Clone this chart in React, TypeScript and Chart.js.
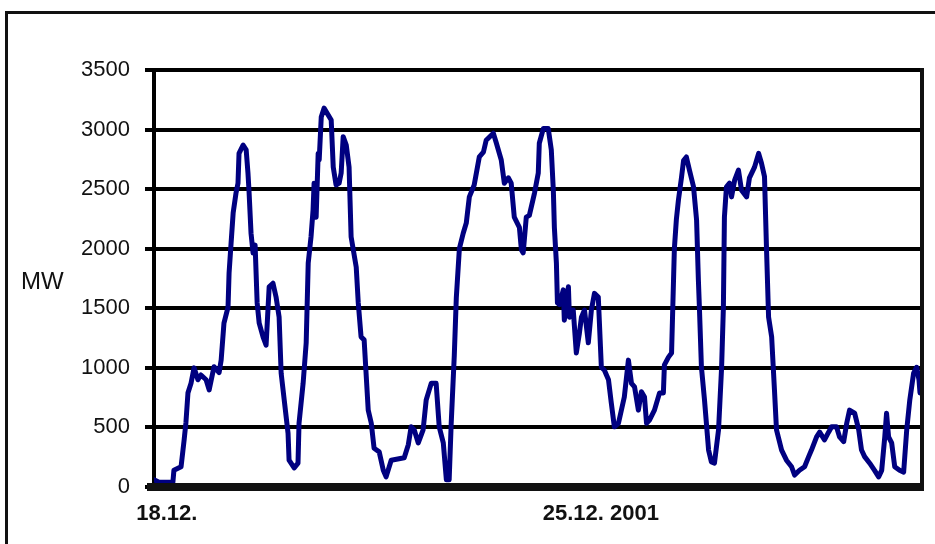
import { useEffect, useRef } from "react";
import { Chart, registerables } from "chart.js";

Chart.register(...registerables);

// time in hours since the start of 18.12.2001
const timeHours = [
  0, 2.0, 7.4, 7.8, 10.6, 11.8, 12.5, 13.3, 14.5, 15.7, 17.2, 18.4, 20.4, 21.6, 23.5, 25.5, 26.3, 27.4, 29.0, 29.4,
  30.2, 31.0, 32.1, 32.9, 33.3, 34.9, 36.1, 36.8, 37.2, 38.0, 38.8, 39.6, 40.4, 41.2, 42.7, 43.9, 45.1, 46.6, 47.8, 49.0,
  49.8, 51.0, 52.5, 52.9, 54.9, 56.4, 56.8, 58.4, 59.6, 60.4, 61.5, 62.3, 62.7, 63.5, 64.3, 64.7, 65.5, 66.6, 69.4, 70.2,
  71.3, 72.5, 73.3, 74.1, 75.3, 76.4, 77.2, 79.2, 80.0, 81.1, 82.3, 83.9, 85.1, 86.2, 88.2, 89.8, 90.9, 92.9, 98.0, 99.6,
  100.7, 101.9, 103.5, 105.4, 106.6, 107.8, 108.6, 110.5, 111.7, 113.3, 114.5, 115.6, 116.4, 117.6, 118.4, 119.6, 121.1, 122.3, 123.5, 125.4,
  127.4, 129.0, 130.1, 132.9, 134.1, 136.0, 137.2, 138.8, 139.9, 141.1, 143.1, 143.9, 144.6, 145.8, 147.0, 149.0, 150.5, 150.9, 152.5, 154.4,
  155.6, 156.4, 156.8, 157.6, 158.0, 158.8, 160.3, 160.7, 162.3, 162.7, 164.2, 165.4, 166.6, 167.4, 168.6, 170.1, 171.3, 172.5, 174.0, 175.2,
  176.4, 178.0, 179.1, 180.3, 181.9, 184.2, 185.8, 187.0, 188.2, 189.7, 190.9, 192.1, 192.9, 194.0, 196.0, 198.0, 199.5, 199.9, 201.5, 202.7,
  203.8, 204.6, 205.4, 206.6, 207.4, 208.5, 209.7, 211.3, 212.5, 213.2, 213.6, 214.4, 215.6, 217.2, 218.3, 219.5, 221.1, 222.3, 223.0, 223.4,
  224.2, 225.4, 226.2, 227.4, 228.9, 230.1, 232.1, 233.2, 235.2, 236.8, 237.9, 239.1, 239.9, 240.7, 241.9, 243.0, 243.8, 245.8, 247.7, 249.7,
  250.9, 252.8, 254.8, 256.4, 257.5, 259.5, 260.7, 262.6, 264.2, 265.4, 267.3, 268.5, 270.1, 271.3, 272.4, 274.4, 276.0, 277.1, 278.3, 280.3,
  282.2, 283.8, 285.0, 286.2, 286.9, 287.7, 288.9, 290.1, 292.0, 293.6, 294.8, 296.0, 297.5, 298.7, 299.6, 300,
];

// load in MW
const loadMW = [
  60, 40, 40, 140, 170, 395, 540, 790, 870, 1000, 900, 940, 900, 815, 1010, 960, 1065, 1375, 1510, 1795,
  2050, 2300, 2465, 2550, 2800, 2870, 2830, 2635, 2490, 2130, 1965, 2030, 1545, 1375, 1260, 1190, 1680, 1710, 1595, 1425,
  955, 730, 450, 225, 160, 200, 535, 870, 1210, 1880, 2100, 2325, 2550, 2265, 2800, 2745, 3105, 3180, 3080, 2685,
  2535, 2550, 2635, 2940, 2870, 2685, 2100, 1845, 1545, 1260, 1235, 645, 535, 325, 295, 140, 85, 225, 245, 355,
  505, 480, 370, 480, 730, 815, 870, 870, 505, 370, 60, 60, 535, 1100, 1590, 2000, 2130, 2215, 2435, 2535,
  2770, 2810, 2910, 2970, 2885, 2745, 2550, 2595, 2550, 2265, 2180, 1990, 1965, 2265, 2280, 2465, 2635, 2885, 3010, 3010,
  2830, 2490, 2180, 1880, 1545, 1530, 1655, 1400, 1680, 1425, 1485, 1125, 1290, 1425, 1485, 1210, 1485, 1625, 1595, 1005,
  980, 900, 705, 505, 535, 755, 1065, 870, 840, 645, 800, 755, 535, 560, 645, 790, 790, 1025, 1090, 1125,
  2000, 2250, 2410, 2600, 2740, 2770, 2660, 2520, 2240, 1740, 1510, 1005, 730, 310, 210, 200, 480, 1005, 1510, 2265,
  2520, 2550, 2435, 2575, 2660, 2490, 2435, 2595, 2685, 2800, 2720, 2605, 1990, 1425, 1260, 815, 480, 310, 225, 170,
  100, 140, 170, 255, 310, 420, 460, 395, 460, 505, 505, 420, 380, 535, 645, 620, 480, 310, 255, 200,
  140, 85, 140, 420, 620, 420, 370, 170, 140, 125, 480, 730, 955, 1005, 900, 790,
];

const xTickValues = [5, 175];
const xTickLabels = ["18.12.", "25.12. 2001"];
const yMin = 0;
const yMax = 3500;
const yStep = 500;
const yAxisTitle = "MW";

export default function App() {
  const ref = useRef<HTMLCanvasElement>(null);

  useEffect(() => {
    document.body.style.margin = "0";
    const canvas = ref.current;
    if (!canvas) return;

    const framePlugin = {
      id: "framePlugin",
      beforeDraw(chart: any) {
        const { ctx } = chart;
        ctx.save();
        ctx.fillStyle = "#ffffff";
        ctx.fillRect(0, 0, chart.width, chart.height);
        ctx.restore();
      },
      afterDraw(chart: any) {
        const { ctx, chartArea } = chart;
        ctx.save();
        ctx.fillStyle = "#111111";
        // outer frame (left + top)
        ctx.fillRect(5, 11, 930, 3);
        ctx.fillRect(5, 11, 3, 533);
        // right border of plot
        ctx.fillRect(chartArea.right, chartArea.top - 2, 4, chartArea.bottom - chartArea.top + 6);
        // bottom axis bar
        ctx.fillRect(chartArea.left - 7, chartArea.bottom - 4, chartArea.right - chartArea.left + 11, 8);
        // axis title
        ctx.fillStyle = "#111111";
        ctx.font = "24px 'Liberation Sans', Arial, sans-serif";
        ctx.textAlign = "left";
        ctx.textBaseline = "middle";
        ctx.fillText(yAxisTitle, 21, 282);
        ctx.restore();
      },
    };

    const chart = new Chart(canvas, {
      type: "line",
      data: {
        datasets: [
          {
            label: yAxisTitle,
            data: timeHours.map((t, i) => ({ x: t, y: loadMW[i] })),
            borderColor: "#000080",
            borderWidth: 5,
            pointRadius: 0,
            tension: 0,
            fill: false,
            borderJoinStyle: "round",
            borderCapStyle: "round",
          },
        ],
      },
      options: {
        animation: false,
        responsive: false,
        maintainAspectRatio: false,
        layout: { padding: { left: 0, right: 15, top: 70, bottom: 0 } },
        plugins: {
          legend: { display: false },
          tooltip: { enabled: false },
          title: { display: false },
        },
        scales: {
          x: {
            type: "linear",
            min: 0,
            max: 300,
            afterBuildTicks: (scale: any) => {
              scale.ticks = xTickValues.map((v) => ({ value: v }));
            },
            afterFit: (scale: any) => {
              scale.height = 57;
            },
            ticks: {
              autoSkip: false,
              maxRotation: 0,
              minRotation: 0,
              padding: 14,
              color: "#111111",
              font: { family: "'Liberation Sans', Arial, sans-serif", size: 22, weight: "bold" },
              callback: (value: any) => {
                const i = xTickValues.indexOf(Number(value));
                return i >= 0 ? xTickLabels[i] : "";
              },
            },
            grid: { display: false, drawTicks: false },
            border: { display: false },
          },
          y: {
            type: "linear",
            min: yMin,
            max: yMax,
            afterFit: (scale: any) => {
              scale.width = 154;
            },
            ticks: {
              stepSize: yStep,
              padding: 15,
              color: "#111111",
              font: { family: "'Liberation Sans', Arial, sans-serif", size: 22 },
              callback: (value: any) => String(value),
            },
            grid: {
              color: "#000000",
              lineWidth: 4,
              tickLength: 9,
              drawTicks: true,
              tickColor: "#000000",
            },
            border: { display: true, color: "#000000", width: 4 },
          },
        },
      },
      plugins: [framePlugin],
    });

    return () => chart.destroy();
  }, []);

  return (
    <div style={{ width: 935, height: 544, overflow: "hidden" }}>
      <canvas ref={ref} width={935} height={544} style={{ display: "block", width: 935, height: 544 }} />
    </div>
  );
}
